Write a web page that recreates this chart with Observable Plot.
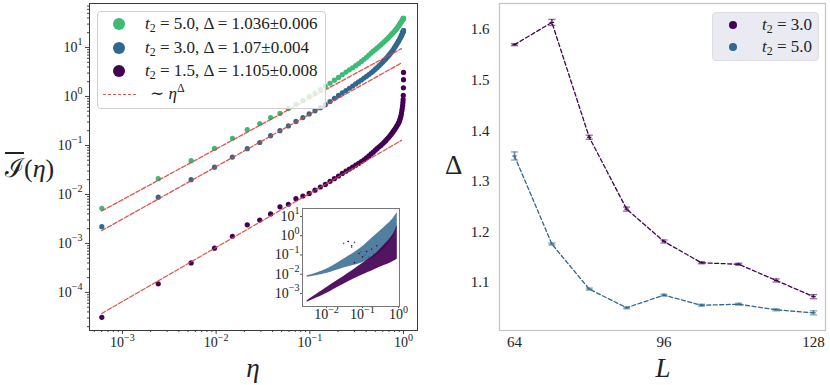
<!DOCTYPE html>
<html><head><meta charset="utf-8">
<script src="https://cdn.jsdelivr.net/npm/d3@7"></script>
<script src="https://cdn.jsdelivr.net/npm/@observablehq/plot@0.6"></script>
<style>
body{margin:0;background:#fff;font-family:"Liberation Serif","Times New Roman",Times,"DejaVu Serif",serif;}
#wrap{position:relative;width:830px;height:385px;overflow:hidden;background:#fff;}
.lab{position:absolute;color:#222;white-space:nowrap;line-height:1;}
.leg{position:absolute;font-size:17px;color:#222;white-space:nowrap;line-height:1;}
.mk{position:absolute;border-radius:50%;}
</style></head><body><div id="wrap"></div>
<script>
// ---------- left panel data ----------
const eta = [
  6.02e-4, 2.41e-3, 5.41e-3, 9.61e-3, 0.0149, 0.0215, 0.0292, 0.0381,
  0.0480, 0.0590, 0.0711, 0.0843, 0.0984, 0.1135, 0.1295, 0.1464,
  0.1642, 0.1828, 0.2022, 0.2222, 0.2430, 0.2643, 0.2862, 0.3087,
  0.3316, 0.3549, 0.3785, 0.4025, 0.4267, 0.4511, 0.4755, 0.5000,
  0.5245, 0.5489, 0.5733, 0.5975, 0.6215, 0.6451, 0.6684, 0.6913,
  0.7138, 0.7357, 0.7570, 0.7778, 0.7978, 0.8172, 0.8358, 0.8536,
  0.8705, 0.8865, 0.9016, 0.9157, 0.9289, 0.9410, 0.9520, 0.9619,
  0.9706, 0.9785, 0.9851, 0.9904, 0.9946, 0.9976, 0.9994, 1.0000];
const I_t15 = [
  3.1e-5, 1.5e-4, 4.0e-4, 8.0e-4, 1.4e-3, 2.4e-3, 3.0e-3, 4.0e-3,
  5.6e-3, 6.3e-3, 8.2e-3, 9.3e-3, 0.0105, 0.0122, 0.0142, 0.0160,
  0.0185, 0.0210, 0.0238, 0.0268, 0.0298, 0.0330, 0.0362, 0.0395,
  0.043, 0.047, 0.051, 0.056, 0.061, 0.067, 0.073, 0.080,
  0.087, 0.094, 0.100, 0.108, 0.116, 0.125, 0.135, 0.145,
  0.156, 0.168, 0.180, 0.193, 0.207, 0.222, 0.238, 0.255,
  0.270, 0.290, 0.310, 0.340, 0.370, 0.410, 0.460, 0.520,
  0.580, 0.660, 0.750, 0.860, 1.05, 1.5, 2.2, 3.1];
const I_t30 = [
  2.2e-3, 8.8e-3, 0.020, 0.036, 0.058, 0.086, 0.115, 0.158,
  0.200, 0.250, 0.310, 0.370, 0.440, 0.510, 0.590, 0.680,
  0.790, 0.920, 1.05, 1.18, 1.32, 1.47, 1.63, 1.80,
  1.98, 2.17, 2.37, 2.58, 2.80, 3.05, 3.30, 3.60,
  3.90, 4.25, 4.60, 5.00, 5.40, 5.85, 6.30, 6.80,
  7.30, 7.85, 8.45, 9.10, 9.80, 10.5, 11.2, 12.0,
  12.8, 13.6, 14.4, 15.2, 16.0, 16.8, 17.6, 18.4,
  19.2, 19.9, 20.5, 21.1, 21.5, 21.8, 22.0, 22.1];
const I_t50 = [
  5.2e-3, 0.021, 0.049, 0.087, 0.140, 0.210, 0.280, 0.370,
  0.450, 0.565, 0.690, 0.830, 1.00, 1.17, 1.38, 1.61,
  1.86, 2.15, 2.45, 2.80, 3.15, 3.50, 3.85, 4.25,
  4.70, 5.20, 5.75, 6.30, 7.00, 7.70, 8.40, 9.10,
  9.80, 10.6, 11.4, 12.2, 13.1, 14.0, 14.9, 15.9,
  16.9, 18.0, 19.1, 20.2, 21.4, 22.6, 23.8, 25.0,
  26.3, 27.6, 28.9, 30.2, 31.5, 32.7, 33.9, 35.0,
  36.0, 36.9, 37.7, 38.3, 38.8, 39.1, 39.3, 39.4];
// fit lines ~ eta^Delta (end points)
const fitEta = [6.0e-4, 0.95];
const fit_t15 = [3.72e-5, 0.127];
const fit_t30 = [1.82e-3, 4.83];
const fit_t50 = [4.59e-3, 9.48];
const leftLabels = ["t₂ = 5.0, Δ = 1.036±0.006", "t₂ = 3.0, Δ = 1.07±0.004", "t₂ = 1.5, Δ = 1.105±0.008", "∼ η^Δ"];
const xMajorL = [1e-3, 1e-2, 1e-1, 1];
const yMajorL = [1e-4, 1e-3, 1e-2, 1e-1, 1, 10];

// ---------- inset data ----------
const insEta = [2.9e-3, 0.01, 0.03, 0.1, 0.2, 0.4, 0.7, 0.93];
const insLo30 = [7.0e-3, 0.011, 0.021, 0.040, 0.070, 0.20, 0.80, 2.5];
const insHi30 = [8.0e-3, 0.018, 0.060, 0.27, 0.85, 2.7, 7.5, 16];
const insLo15 = [3.5e-4, 1.0e-3, 3.0e-3, 9.0e-3, 0.016, 0.028, 0.045, 0.060];
const insHi15 = [4.2e-4, 2.0e-3, 7.5e-3, 0.036, 0.09, 0.32, 1.1, 3.3];
const insOutX30 = [0.030, 0.040, 0.060, 0.090, 0.12, 0.15, 0.20, 0.05];
const insOutY30 = [0.40, 0.50, 0.45, 0.15, 0.10, 0.08, 0.12, 0.25];
const insOutX15 = [0.050, 0.060, 0.080, 0.10, 0.13, 0.18, 0.25, 0.04];
const insOutY15 = [0.30, 0.040, 0.12, 0.08, 0.15, 0.20, 0.30, 0.5];
const xMajorI = [1e-2, 1e-1, 1];
const yMajorI = [1e-3, 1e-2, 1e-1, 1, 10];

// ---------- right panel data ----------
const L = [64, 72, 80, 88, 96, 104, 112, 120, 128];
const D_t30 = [1.570, 1.614, 1.387, 1.245, 1.181, 1.139, 1.136, 1.104, 1.072];
const E_t30 = [0.002, 0.006, 0.004, 0.004, 0.003, 0.002, 0.002, 0.003, 0.004];
const D_t50 = [1.350, 1.176, 1.087, 1.050, 1.075, 1.055, 1.057, 1.046, 1.040];
const E_t50 = [0.008, 0.002, 0.002, 0.002, 0.002, 0.002, 0.002, 0.002, 0.004];
const xTicksR = [64, 96, 128];
const yTicksR = [1.1, 1.2, 1.3, 1.4, 1.5, 1.6];
const rightLabels = ["t₂ = 3.0", "t₂ = 5.0"];

// ---------- styling ----------
const PURPLE = "#440154", BLUE = "#31688e", GREEN = "#3dbb74", RED = "#d9423a";
const FONT = '"Liberation Serif", "Times New Roman", Times, "DejaVu Serif", serif';
const wrap = document.getElementById("wrap");

function minorTicks(lo, hi) {
  const out = [];
  for (let e = Math.floor(Math.log10(lo)); e <= Math.ceil(Math.log10(hi)); e++)
    for (let k = 2; k <= 9; k++) { const v = k * Math.pow(10, e); if (v >= lo && v <= hi) out.push(v); }
  return out;
}
const expFmt = d => "10^" + Math.round(Math.log10(d));
function superscripts(svg) {
  svg.querySelectorAll("text").forEach(t => {
    const m = /^10\^(-?\d+)$/.exec(t.textContent);
    if (!m) return;
    t.textContent = "";
    const ns = "http://www.w3.org/2000/svg";
    const a = document.createElementNS(ns, "tspan"); a.textContent = "10";
    const b = document.createElementNS(ns, "tspan"); b.textContent = m[1].replace("-", "−");
    b.setAttribute("font-size", "72%"); b.setAttribute("dy", "-0.65em");
    t.appendChild(a); t.appendChild(b);
  });
}
function place(el, left, top) {
  el.style.position = "absolute"; el.style.left = left + "px"; el.style.top = top + "px";
  wrap.appendChild(el);
}
const rows = (xs, ys) => xs.map((x, i) => ({x, y: ys[i]}));

// ---------- left main plot ----------
const xDomL = [4.45e-4, 1.41], yDomL = [1.67e-5, 79];
const left = Plot.plot({
  width: 420, height: 385,
  marginLeft: 89, marginRight: 3, marginTop: 3, marginBottom: 55,
  style: {fontFamily: FONT, fontSize: "14px", color: "#222", background: "transparent", overflow: "visible"},
  x: {type: "log", domain: xDomL},
  y: {type: "log", domain: yDomL},
  marks: [
    Plot.dot(rows(eta, I_t50), {x: "x", y: "y", r: 2.6, fill: GREEN}),
    Plot.dot(rows(eta, I_t30), {x: "x", y: "y", r: 2.6, fill: BLUE}),
    Plot.dot(rows(eta, I_t15), {x: "x", y: "y", r: 2.6, fill: PURPLE}),
    Plot.line(rows(fitEta, fit_t50), {x: "x", y: "y", stroke: RED, strokeWidth: 1.3, strokeDasharray: "4.5,2", strokeOpacity: 0.9}),
    Plot.line(rows(fitEta, fit_t30), {x: "x", y: "y", stroke: RED, strokeWidth: 1.3, strokeDasharray: "4.5,2", strokeOpacity: 0.9}),
    Plot.line(rows(fitEta, fit_t15), {x: "x", y: "y", stroke: RED, strokeWidth: 1.3, strokeDasharray: "4.5,2", strokeOpacity: 0.9}),
    Plot.axisX({ticks: xMajorL, tickFormat: expFmt, tickSize: 4, tickPadding: 3, label: null, stroke: "#444"}),
    Plot.axisX({ticks: minorTicks(...xDomL), tickFormat: () => "", tickSize: 2, label: null, stroke: "#444"}),
    Plot.axisY({ticks: yMajorL, tickFormat: expFmt, tickSize: 4, tickPadding: 3, label: null, stroke: "#444"}),
    Plot.axisY({ticks: minorTicks(...yDomL), tickFormat: () => "", tickSize: 2, label: null, stroke: "#444"}),
    Plot.frame({stroke: "#3a3a3a", strokeWidth: 1})
  ]
});
superscripts(left);
place(left, 0, 0);

// ---------- inset ----------
const xDomI = [2.15e-3, 1.07], yDomI = [2.1e-4, 26];
const band = (xs, lo, hi) => xs.map((x, i) => ({x, lo: lo[i], hi: hi[i]}));
const inset = Plot.plot({
  width: 152, height: 125,
  marginLeft: 52, marginRight: 3, marginTop: 8, marginBottom: 19,
  style: {fontFamily: FONT, fontSize: "14px", color: "#222", background: "transparent", overflow: "visible"},
  x: {type: "log", domain: xDomI},
  y: {type: "log", domain: yDomI},
  marks: [
    Plot.frame({fill: "white", stroke: "none"}),
    Plot.areaY(band(insEta, insLo30, insHi30), {x: "x", y1: "lo", y2: "hi", fill: BLUE, fillOpacity: 0.85, curve: "catmull-rom"}),
    Plot.dot(rows(insOutX30, insOutY30), {x: "x", y: "y", r: 0.8, fill: BLUE}),
    Plot.areaY(band(insEta, insLo15, insHi15), {x: "x", y1: "lo", y2: "hi", fill: PURPLE, fillOpacity: 0.92, curve: "catmull-rom"}),
    Plot.dot(rows(insOutX15, insOutY15), {x: "x", y: "y", r: 0.8, fill: PURPLE}),
    Plot.axisX({ticks: xMajorI, tickFormat: expFmt, tickSize: 2, tickPadding: 1, label: null, stroke: "#555"}),
    Plot.axisY({ticks: yMajorI, tickFormat: expFmt, tickSize: 2, tickPadding: 1, label: null, stroke: "#555"}),
    Plot.frame({stroke: "#777", strokeWidth: 1})
  ]
});
superscripts(inset);
place(inset, 250, 200);

// ---------- right plot ----------
const cap = {draw(ctx, size) { const w = Math.sqrt(size / Math.PI); ctx.moveTo(-w, 0); ctx.lineTo(w, 0); }};
const rrows = (D, E) => L.map((l, i) => ({L: l, D: D[i], lo: D[i] - E[i], hi: D[i] + E[i]}));
const r30 = rrows(D_t30, E_t30), r50 = rrows(D_t50, E_t50);
const errMarks = (data, color) => [
  Plot.ruleX(data, {x: "L", y1: "lo", y2: "hi", stroke: color, strokeWidth: 1.6, strokeOpacity: 0.75}),
  Plot.dot(data, {x: "L", y: "lo", symbol: cap, r: 3.6, stroke: color, fill: "none", strokeWidth: 1.4, strokeOpacity: 0.55}),
  Plot.dot(data, {x: "L", y: "hi", symbol: cap, r: 3.6, stroke: color, fill: "none", strokeWidth: 1.4, strokeOpacity: 0.55}),
  Plot.dot(data, {x: "L", y: "D", symbol: cap, r: 2.2, stroke: color, fill: "none", strokeWidth: 1.2})
];
const right = Plot.plot({
  width: 400, height: 385,
  marginLeft: 69, marginRight: 5, marginTop: 3, marginBottom: 55,
  style: {fontFamily: FONT, fontSize: "15px", color: "#222", background: "transparent", overflow: "visible"},
  x: {domain: [60.79, 130.57]},
  y: {domain: [1.0051, 1.6514]},
  marks: [
    Plot.line(r30, {x: "L", y: "D", stroke: PURPLE, strokeWidth: 1.3, strokeDasharray: "4,2.5"}),
    Plot.line(r50, {x: "L", y: "D", stroke: BLUE, strokeWidth: 1.3, strokeDasharray: "4,2.5"}),
    ...errMarks(r30, PURPLE),
    ...errMarks(r50, BLUE),
    Plot.axisX({ticks: xTicksR, tickSize: 0, tickPadding: 6, label: null}),
    Plot.axisY({ticks: yTicksR, tickFormat: d3.format(".1f"), tickSize: 0, tickPadding: 10, label: null}),
    Plot.frame({stroke: "#c4c4c4", strokeWidth: 1.2})
  ]
});
place(right, 430, 0);

// ---------- axis titles ----------
function label(html, left, top, size, extra) {
  const d = document.createElement("div");
  d.className = "lab"; d.innerHTML = html;
  d.style.left = left + "px"; d.style.top = top + "px"; d.style.fontSize = size + "px";
  if (extra) Object.assign(d.style, extra);
  wrap.appendChild(d); return d;
}
label("<i>η</i>", 253, 355, 27, {transform: "translateX(-50%)"});
label("<i>L</i>", 663, 355, 27, {transform: "translateX(-50%)"});
label("<span style='text-decoration:overline;text-decoration-thickness:1.5px'>ℐ</span>(<i>η</i>)", 5, 156, 26);
label("Δ", 445, 152, 27);

// ---------- left legend ----------
const lg = document.createElement("div");
Object.assign(lg.style, {position: "absolute", left: "97px", top: "11px", width: "229px", height: "98px",
  background: "rgba(255,255,255,0.8)", border: "1px solid #d0d0d0", borderRadius: "4px", boxSizing: "border-box"});
wrap.appendChild(lg);
const legColors = [GREEN, BLUE, PURPLE];
const legRows = [24, 48, 71, 94];
function fmtLabel(s) {
  return s.replace("t₂", "<i>t</i><sub style='font-size:70%;vertical-align:-0.25em;line-height:0'>2</sub>")
          .replace("η^Δ", "<i>η</i><sup style='font-size:70%;vertical-align:0.55em;line-height:0'>Δ</sup>");
}
leftLabels.forEach((s, i) => {
  if (i < 3) {
    const m = document.createElement("div"); m.className = "mk";
    Object.assign(m.style, {left: (119 - 6) + "px", top: (legRows[i] - 6) + "px", width: "12px", height: "12px", background: legColors[i]});
    wrap.appendChild(m);
  } else {
    const ln = document.createElement("div");
    Object.assign(ln.style, {position: "absolute", left: "103px", top: legRows[i] + "px", width: "33px", height: "0px",
      borderTop: "1.2px dashed " + RED, opacity: 0.85});
    wrap.appendChild(ln);
  }
  const t = document.createElement("div"); t.className = "leg"; t.innerHTML = fmtLabel(s);
  t.style.left = (i < 3 ? 145 : 150) + "px"; t.style.top = (legRows[i] - 9) + "px";
  wrap.appendChild(t);
});

// ---------- right legend ----------
const rg = document.createElement("div");
Object.assign(rg.style, {position: "absolute", left: "712px", top: "12px", width: "107px", height: "49px",
  background: "#eaeaf2", border: "1px solid #dcdce4", borderRadius: "4px", boxSizing: "border-box"});
wrap.appendChild(rg);
[PURPLE, BLUE].forEach((c, i) => {
  const y = [25, 47][i];
  const m = document.createElement("div"); m.className = "mk";
  Object.assign(m.style, {left: "729px", top: (y - 4) + "px", width: "8px", height: "8px", background: c});
  wrap.appendChild(m);
  const t = document.createElement("div"); t.className = "leg"; t.innerHTML = fmtLabel(rightLabels[i]);
  t.style.left = "762px"; t.style.top = (y - 9) + "px";
  wrap.appendChild(t);
});
</script></body></html>
